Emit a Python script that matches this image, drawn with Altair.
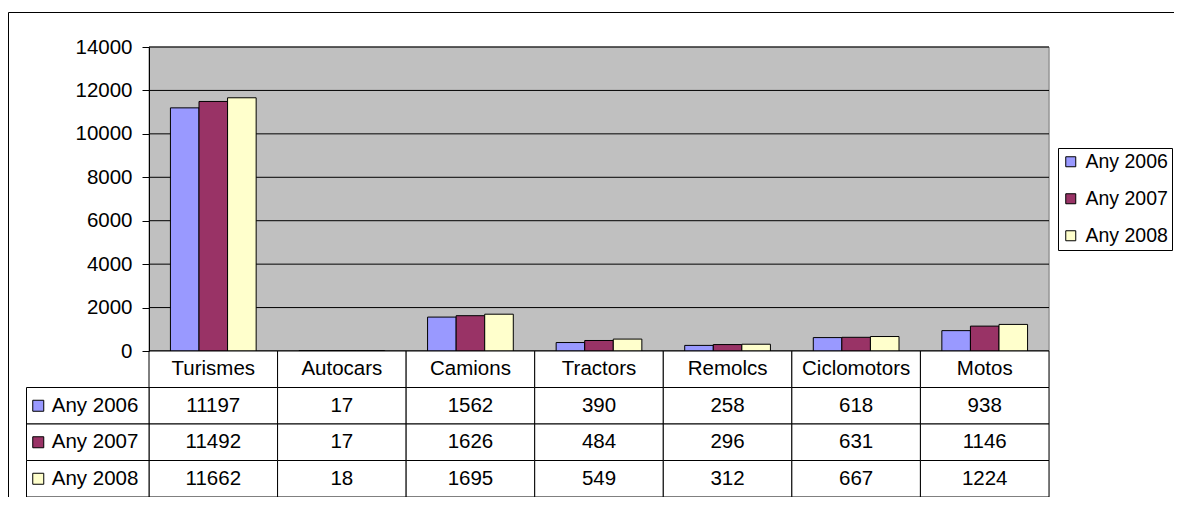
import altair as alt
import pandas as pd

# ---- data ----
categories = ["Turismes", "Autocars", "Camions", "Tractors", "Remolcs", "Ciclomotors", "Motos"]
years = ["Any 2006", "Any 2007", "Any 2008"]
values_2006 = [11197, 17, 1562, 390, 258, 618, 938]
values_2007 = [11492, 17, 1626, 484, 296, 631, 1146]
values_2008 = [11662, 18, 1695, 549, 312, 667, 1224]
y_ticks = [0, 2000, 4000, 6000, 8000, 10000, 12000, 14000]
colors = ["#9999FF", "#993366", "#FFFFCC"]

# ---- tables built from the arrays ----
rows = []
for yr, vals in zip(years, [values_2006, values_2007, values_2008]):
    for c, v in zip(categories, vals):
        rows.append({"cat": c, "year": yr, "value": v})
bars_df = pd.DataFrame(rows)

HEADER = "hdr"
table_rows = [HEADER] + years
cells = [{"cat": c, "row": HEADER, "text": c} for c in categories]
cells += [{"cat": r["cat"], "row": r["year"], "text": str(r["value"])} for r in rows]
cells_df = pd.DataFrame(cells)
labels_df = pd.DataFrame({"col": ["lbl"] * len(years), "row": years, "year": years})
ticks_df = pd.DataFrame({"tick": y_ticks})
one_df = pd.DataFrame({"k": [0]})

# ---- layout ----
PLOT_W = 900
BAR_H = 304
TABLE_H = 146
H = BAR_H + TABLE_H
FONT = "Liberation Sans"
FS = 20.5

x_cat = alt.X("cat:N", sort=categories,
              scale=alt.Scale(domain=categories, paddingInner=0, paddingOuter=0),
              axis=None)
y_row = alt.Y("row:N", sort=table_rows,
              scale=alt.Scale(domain=table_rows, range=[BAR_H, H], paddingInner=0, paddingOuter=0),
              axis=None)
val_scale = alt.Scale(domain=[0, 14000], range=[BAR_H, 0], nice=False, zero=True)

legend = alt.Legend(title=None, orient="none", legendX=909, legendY=101,
                    strokeColor="black", fillColor="white", padding=4,
                    symbolType="square", symbolSize=100, symbolStrokeColor="black",
                    symbolStrokeWidth=1, symbolOffset=-1, labelFontSize=19.5,
                    labelOffset=5, rowPadding=16, labelColor="black", labelLimit=0,
                    labelFont=FONT)
fill = alt.Fill("year:N", sort=years, scale=alt.Scale(domain=years, range=colors), legend=legend)

# grey plot panel and black gridlines
panel = alt.Chart(one_df).mark_rect(fill="#C0C0C0", stroke="#808080", strokeWidth=1).encode(
    x=alt.value(0), x2=alt.value(PLOT_W),
    y=alt.Y(datum=14000, type="quantitative", scale=val_scale, axis=None),
    y2=alt.Y2(datum=0),
)
grid = alt.Chart(ticks_df).mark_rule(color="black", strokeWidth=1).encode(
    y=alt.Y("tick:Q", scale=val_scale, axis=None))

bars = alt.Chart(bars_df).mark_bar(stroke="black", strokeWidth=1).encode(
    x=x_cat,
    xOffset=alt.XOffset("year:N", sort=years,
                        scale=alt.Scale(domain=years, paddingInner=0, paddingOuter=0.75)),
    y=alt.Y("value:Q", scale=val_scale,
            axis=alt.Axis(values=y_ticks, title=None, grid=False, domain=True,
                          domainColor="black", domainWidth=1, ticks=True,
                          tickColor="black", tickSize=7, tickWidth=1,
                          labelFontSize=FS, labelColor="black", labelPadding=10,
                          format="d", labelFont=FONT, zindex=1)),
    fill=fill,
)

cells_rect = alt.Chart(cells_df).mark_rect(fill="white", stroke="black", strokeWidth=1).encode(
    x=x_cat, y=y_row)
cells_text = alt.Chart(cells_df).mark_text(fontSize=FS, color="black", font=FONT).encode(
    x=x_cat, y=y_row, text="text:N")

lbl_scale = alt.Scale(domain=["lbl"], range=[-122.5, 0], paddingInner=0, paddingOuter=0)
lbl_rect = alt.Chart(labels_df).mark_rect(fill="white", stroke="black", strokeWidth=1).encode(
    x=alt.X("col:N", scale=lbl_scale, axis=None), y=y_row)
lbl_sq = alt.Chart(labels_df).mark_square(size=121, stroke="black", strokeWidth=1,
                                          opacity=1, filled=True, xOffset=-49.5).encode(
    x=alt.X("col:N", scale=lbl_scale, axis=None), y=y_row, fill=fill)
lbl_text = alt.Chart(labels_df).mark_text(align="left", fontSize=FS, color="black",
                                          font=FONT, dx=-36).encode(
    x=alt.X("col:N", scale=lbl_scale, axis=None), y=y_row, text="year:N")

border_top = alt.Chart(one_df).mark_rule(color="black", strokeWidth=1).encode(
    x=alt.value(-140.5), x2=alt.value(1040), y=alt.value(-34.5))
border_left = alt.Chart(one_df).mark_rule(color="black", strokeWidth=1).encode(
    x=alt.value(-140.5), y=alt.value(-34.5), y2=alt.value(470))

chart = alt.layer(
    panel, grid, bars, cells_rect, cells_text, lbl_rect, lbl_sq, lbl_text, border_top, border_left
).resolve_scale(
    x="independent", y="independent"
).properties(
    width=PLOT_W, height=H,
    autosize=alt.AutoSizeParams(type="none"),
    padding={"left": 141, "top": 39, "right": 125, "bottom": 0},
).configure_view(
    stroke=None
).configure(font=FONT)

chart.save("out.html", embed_options={"renderer": "svg", "actions": False})
